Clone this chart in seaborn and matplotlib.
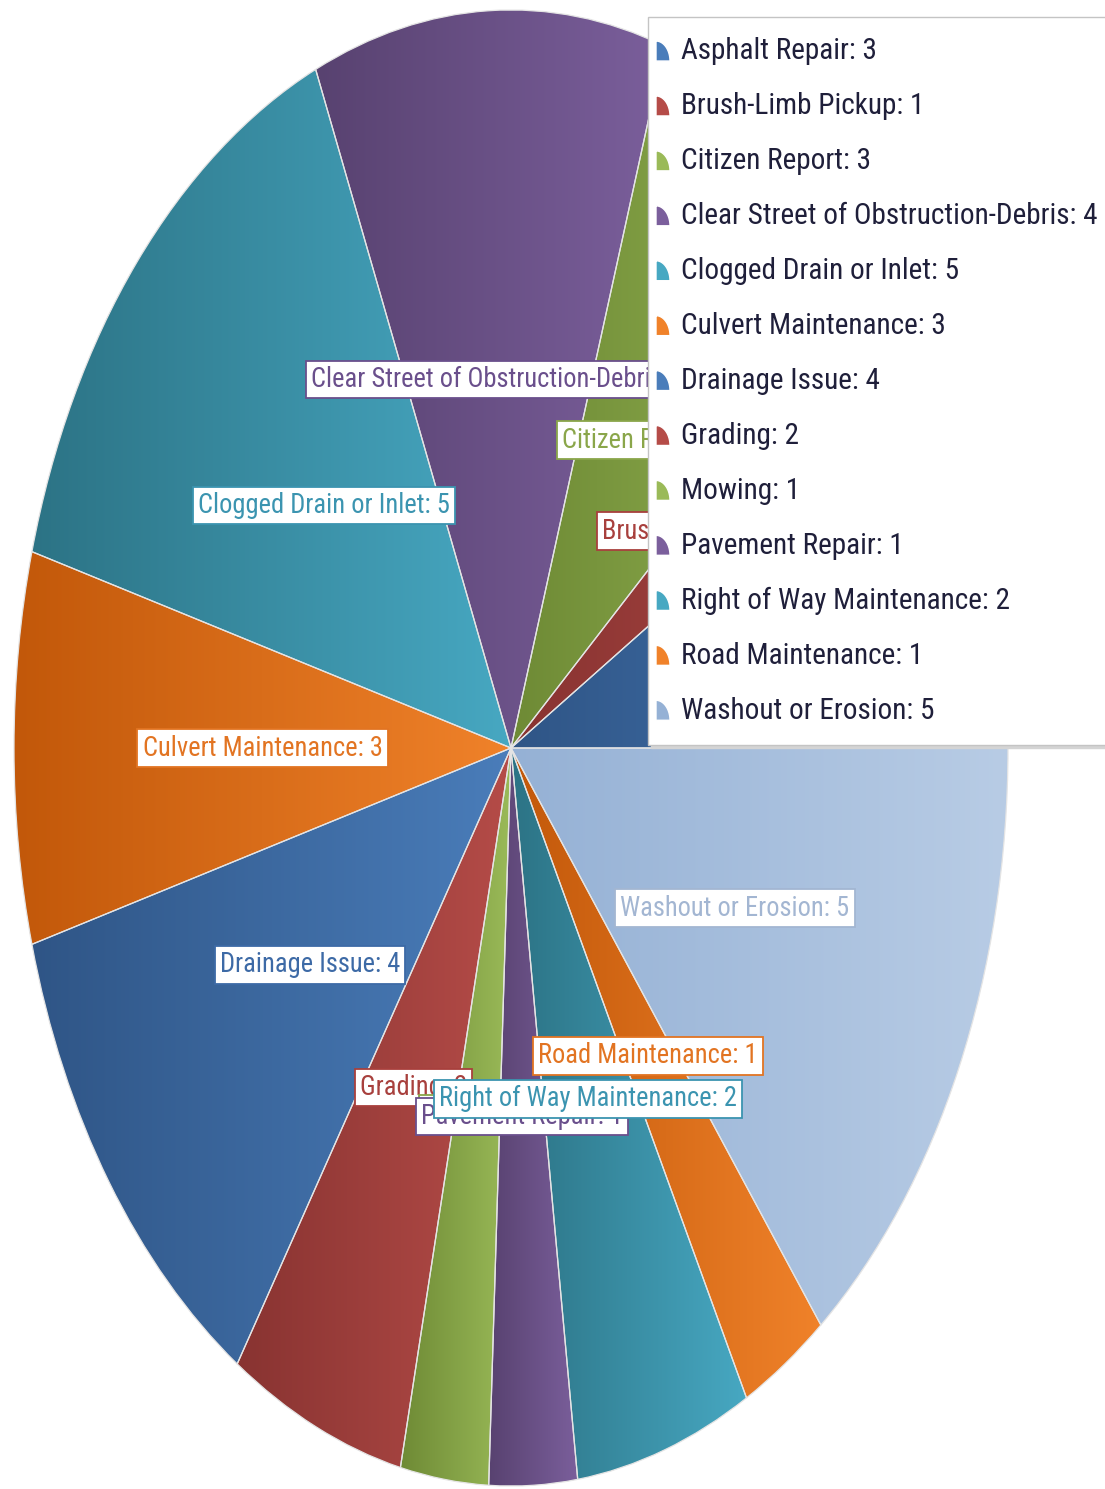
import numpy as np
import matplotlib
matplotlib.use("Agg")
import matplotlib.pyplot as plt
import seaborn as sns
from matplotlib import font_manager as fm
from matplotlib.patches import Patch, Polygon
from matplotlib.legend_handler import HandlerPatch
from matplotlib.colors import LinearSegmentedColormap

categories = ["Asphalt Repair", "Brush-Limb Pickup", "Citizen Report",
              "Clear Street of Obstruction-Debris", "Clogged Drain or Inlet",
              "Culvert Maintenance", "Drainage Issue", "Grading", "Mowing",
              "Pavement Repair", "Right of Way Maintenance", "Road Maintenance",
              "Washout or Erosion"]
counts = [3, 1, 3, 4, 5, 3, 4, 2, 1, 1, 2, 1, 5]

# left (dark) / right (light) ends of each slice gradient
shades = {
    "blue": ("#2f5586", "#4a7dba"),
    "red": ("#883331", "#b54c48"),
    "green": ("#6e8a35", "#9aba58"),
    "purple": ("#584270", "#7b5f9c"),
    "teal": ("#2c7385", "#47a8c2"),
    "orange": ("#c2580a", "#f0822a"),
    "lightblue": ("#95b1d5", "#b8cce5"),
}
label_col = {
    "blue": "#3d6aa6", "red": "#a8403d", "green": "#8aa64a",
    "purple": "#6a4f8c", "teal": "#3b94b0", "orange": "#e27422",
    "lightblue": "#a3b6d2",
}
series = ["blue", "red", "green", "purple", "teal", "orange"] * 2 + ["lightblue"]

sns.set_style("white")

# look for a narrow face, otherwise a reasonably tight sans
fam, stretch = "Roboto", "normal"
pref = ["Liberation Sans Narrow", "Roboto Condensed", "Open Sans Condensed",
        "Noto Sans Condensed", "DejaVu Sans"]
narrow = [f for f in fm.fontManager.ttflist
          if ("Narrow" in f.name or "Condensed" in f.name
              or f.stretch in ("condensed", "semi-condensed"))
          and f.style == "normal" and f.weight in (400, "normal", "regular")]
if narrow:
    narrow.sort(key=lambda f: pref.index(f.name) if f.name in pref else 99)
    fam, stretch = narrow[0].name, narrow[0].stretch
plt.rcParams["font.family"] = [fam, "DejaVu Sans"]
plt.rcParams["font.stretch"] = stretch

fig = plt.figure(figsize=(11.05, 14.89), dpi=100)
renderer = fig.canvas.get_renderer()
px = fig.dpi / 72.0


def fit(text, target_px):
    t = fig.text(0, 0, text, fontsize=10)
    bb = t.get_window_extent(renderer)
    t.remove()
    fs = 10 * target_px / bb.width
    return fs, bb.height * fs / 10


leg_fs, leg_h = fit("Clear Street of Obstruction-Debris: 4", 414)
lab_fs, lab_h = fit("Clogged Drain or Inlet: 5", 251)

ax = fig.add_axes([14 / 1105, 3 / 1489, 994 / 1105, 1476 / 1489])

labels = [f"{c}: {n}" for c, n in zip(categories, counts)]
wedges, texts = ax.pie(counts, labels=labels, startangle=0, counterclock=True,
                       labeldistance=0.5, radius=1,
                       textprops=dict(fontsize=lab_fs))
ax.set_aspect("auto")

for w, key in zip(wedges, series):
    lo, hi = shades[key]
    cmap = LinearSegmentedColormap.from_list("g", [lo, hi])
    ext = w.get_path().get_extents()
    im = ax.imshow(np.linspace(0, 1, 256)[None, :], cmap=cmap,
                   extent=[ext.x0, ext.x1, ext.y0, ext.y1], aspect="auto",
                   zorder=1, interpolation="bilinear")
    im.set_clip_path(w)
    w.set_facecolor("none")
    w.set_edgecolor("#e4e4e4")
    w.set_linewidth(0.9)
    w.set_zorder(2)

lab_pad = max((37 - lab_h) / (2 * lab_fs * px), 0.05)
for t, key in zip(texts, series):
    c = label_col[key]
    t.set_ha("center")
    t.set_va("center")
    t.set_color(c)
    t.set_bbox(dict(boxstyle=f"square,pad={lab_pad:.3f}", fc="white", ec=c, lw=1.3))
    t.set_zorder(4)
texts[10].set_zorder(6)

ax.set_xlim(-1, 1)
ax.set_ylim(-1, 1)
ax.axis("off")

# legend geometry in pixels, converted to font-size units
fs_px = leg_fs * px
pad_px = max(49 - 17 - leg_h / 2, 4) + 3
shift_pt = (pad_px - 8) / px
icon_w, icon_h = 14 / px, 20 / px


def quarter(legend, orig_handle, xdescent, ydescent, width, height, fontsize):
    t = np.linspace(0, np.pi / 2, 24)
    x0 = -xdescent - shift_pt
    y0 = -ydescent + (height - icon_h) / 2 - 2 / px
    pts = [(x0, y0)] + [(x0 + icon_w * np.cos(a), y0 + icon_h * np.sin(a)) for a in t]
    return Polygon(pts, closed=True)


hl_px = 6
proxies = [Patch(facecolor=shades[k][1] if k != "lightblue" else shades[k][0]) for k in series]
leg = ax.legend(proxies, labels, loc="upper left",
                bbox_to_anchor=(648 / 1105, 1 - 17 / 1489),
                bbox_transform=fig.transFigure, fontsize=leg_fs,
                frameon=True, fancybox=False, edgecolor="#c4c4c4",
                framealpha=1, borderpad=pad_px / fs_px,
                labelspacing=(56.4 - leg_h) / fs_px,
                handlelength=hl_px / fs_px, handleheight=0.7,
                handletextpad=(681 - 648 - pad_px - hl_px) / fs_px,
                borderaxespad=0,
                handler_map={Patch: HandlerPatch(patch_func=quarter)},
                shadow={"color": "#d4d4d4", "alpha": 1})
leg.set_zorder(10)
for txt in leg.get_texts():
    txt.set_color("#1f1f3a")

fig.savefig("out.png", dpi=100)
